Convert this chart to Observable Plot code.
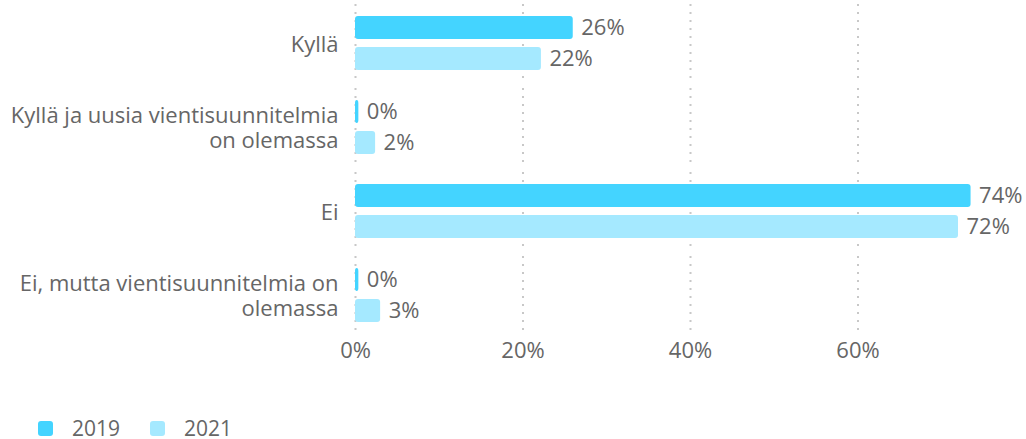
<!DOCTYPE html>
<html><head><meta charset="utf-8">
<script src="https://cdn.jsdelivr.net/npm/d3@7"></script>
<script src="https://cdn.jsdelivr.net/npm/@observablehq/plot@0.6"></script>
<style>
body{margin:0;background:#fff;font-family:"Open Sans",sans-serif;}
#chart{position:absolute;left:0;top:0;}
#legend{position:absolute;left:38px;top:417px;height:22px;display:flex;align-items:center;font-size:21px;line-height:22px;color:#666;}
.item{display:flex;align-items:center;margin-right:30px;}
.sw{width:15px;height:15px;border-radius:3px;margin-right:19px;}
</style></head><body><div id="chart"></div><div id="legend"></div>
<script>
const categories = ["Kyllä", "Kyllä ja uusia vientisuunnitelmia\non olemassa", "Ei", "Ei, mutta vientisuunnitelmia on\nolemassa"];
const years = ["2019", "2021"];
const values2019 = [26, 0.4, 73.5, 0.4];
const values2021 = [22.2, 2.4, 72, 3.0];
const xTicks = [0, 20, 40, 60];
const colors = ["#44d4ff", "#a5e9ff"];

const rows = categories.flatMap((c, i) => [
  {category: c, year: years[0], value: values2019[i]},
  {category: c, year: years[1], value: values2021[i]}
]);
const gridRows = categories.flatMap(c => xTicks.map(t => ({category: c, tick: t})));

const chart = Plot.plot({
  width: 1026, height: 385,
  marginLeft: 355, marginRight: 1, marginTop: 11, marginBottom: 59,
  style: {fontFamily: "'Open Sans', sans-serif", fontSize: "22px", color: "#666", background: "#fff"},
  x: {domain: [0, 80], axis: null},
  fy: {domain: categories, paddingInner: 0.265, paddingOuter: 0, axis: null},
  y: {domain: years, paddingInner: 0.26, paddingOuter: 0.13, axis: null},
  color: {domain: years, range: colors},
  marks: [
    Plot.ruleX(gridRows, {x: "tick", fy: "category", insetTop: -8, insetBottom: -9, stroke: "#c8c8c8", strokeWidth: 2, strokeDasharray: "2,6"}),
    Plot.barX(rows, {x: "value", y: "year", fy: "category", fill: "year", rx: 3}),
    Plot.text(rows, {x: "value", y: "year", fy: "category", text: d => Math.round(d.value) + "%", textAnchor: "start", dx: 8, fill: "#666"}),
    Plot.text(categories, {fy: d => d, text: d => d, frameAnchor: "left", textAnchor: "end", dx: -17, lineHeight: 1.14, fill: "#666"}),
    Plot.text(xTicks, {x: d => d, fy: () => categories[categories.length - 1], text: d => d + "%", frameAnchor: "bottom", dy: 31, fill: "#666"})
  ]
});
document.getElementById("chart").appendChild(chart);

const legend = document.getElementById("legend");
years.forEach((y, i) => {
  const it = document.createElement("div");
  it.className = "item";
  it.innerHTML = `<div class="sw" style="background:${colors[i]}"></div><span>${y}</span>`;
  legend.appendChild(it);
});
</script>
</body></html>
